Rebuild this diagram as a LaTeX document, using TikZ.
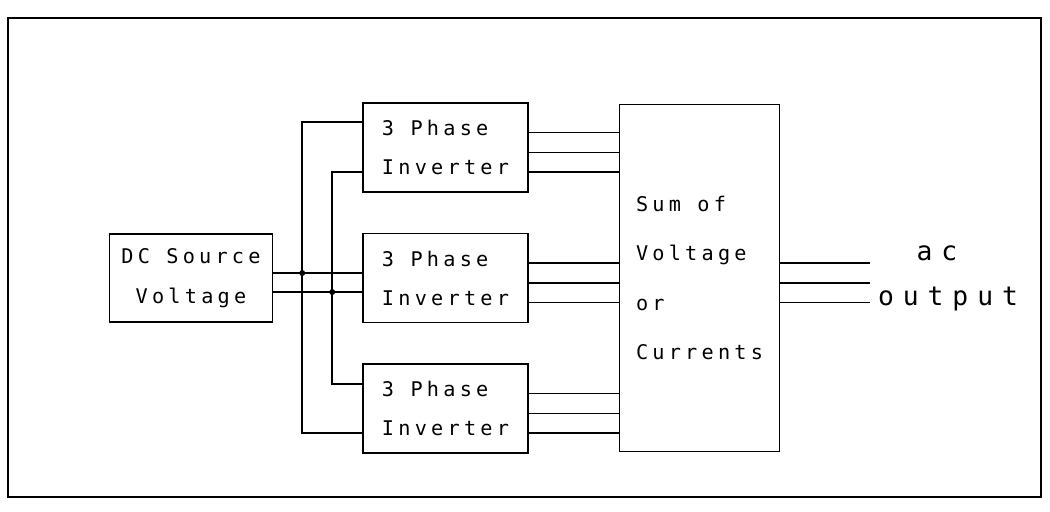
\documentclass[tikz,border=0pt]{standalone}
\usepackage{fontspec}
\newfontfamily\plotfont[LetterSpace=21]{DejaVu Sans Mono}
\newfontfamily\plotfontwide[LetterSpace=34]{DejaVu Sans Mono}
\usetikzlibrary{positioning,calc}

\begin{document}
\begin{tikzpicture}[x=0.02cm, y=-0.02cm,
          blk/.style={draw, line width=0.9pt, inner sep=0pt,
                      font=\plotfont\fontsize{11.5pt}{22.3pt}\selectfont},
          inv/.style={blk, minimum width=3.3cm, minimum height=1.78cm,
                      align=left},
          src/.style={blk, minimum width=3.26cm, minimum height=1.76cm,
                      align=center,
                      font=\plotfont\fontsize{11.5pt}{22.8pt}\selectfont},
          sumbox/.style={blk, minimum width=3.2cm, minimum height=6.94cm,
                      align=left,
                      font=\plotfont\fontsize{11.5pt}{28.2pt}\selectfont},
          wire/.style={line width=0.9pt},
          outlbl/.style={inner sep=0pt, anchor=base,
                      font=\plotfontwide\fontsize{15pt}{16pt}\selectfont}
        ]
          \useasboundingbox (0,0) rectangle (1050,511);
          \draw[line width=1.1pt] (8,18) rectangle (1041,497);

          \node[inv] (inv1) at (445.5,147.5) {3 Phase\\Inverter};
          \node[inv, below=0.8cm of inv1] (inv2) {3 Phase\\Inverter};
          \node[inv, below=0.8cm of inv2] (inv3) {3 Phase\\Inverter};
          \node[src, left=1.78cm of inv2] (dc) {DC Source\\Voltage};
          \node[sumbox, right=1.8cm of inv2] (sum) {Sum of\\Voltage\\or\\Currents};

          % dc bus, split to the three inverters
          \coordinate (ja) at ($(dc.east)+(29,-5)$);
          \coordinate (jb) at ($(dc.east)+(59,14)$);
          \draw[wire] (dc.east |- ja) -- (inv2.west |- ja);
          \draw[wire] (dc.east |- jb) -- (inv2.west |- jb);
          \draw[wire] ($(inv1.west)+(0,-25.5)$) -| (ja) |- ($(inv3.west)+(0,24.5)$);
          \draw[wire] ($(inv1.west)+(0,24.5)$) -| (jb) |- ($(inv3.west)+(0,-24.5)$);
          \fill (ja) circle (1.7pt);
          \fill (jb) circle (1.7pt);

          % three phases out of each inverter
          \foreach \k in {inv1,inv2,inv3}
            \foreach \d in {-15,5,24.5} {
              \coordinate (o) at ($(\k.east)+(0,\d)$);
              \draw[wire] (o) -- (o -| sum.west);
            }
          \foreach \d in {-15,5,24.5} {
            \coordinate (a) at ($(sum.east)+(0,\d)$);
            \draw[wire] (a) -- ++(90,0);
          }

          \node[outlbl] (ac) at (937,260) {ac};
          \node[outlbl] (outp) at (948,305) {output};
        \end{tikzpicture}
\end{document}
